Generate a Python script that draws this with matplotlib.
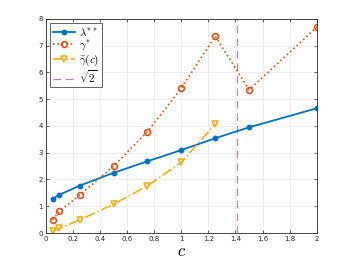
import matplotlib

matplotlib.use("Agg")

import matplotlib.pyplot as plt
import numpy as np

plt.rcParams["mathtext.fontset"] = "cm"

c_vals = [0.05, 0.1, 0.25, 0.5, 0.75, 1.0, 1.25, 1.5, 2.0]
lambda_ss = [1.28, 1.43, 1.77, 2.25, 2.68, 3.1, 3.54, 3.95, 4.66]
gamma_s = [0.49, 0.81, 1.42, 2.5, 3.79, 5.41, 7.36, 5.35, 7.69]
c_bar = [0.05, 0.1, 0.25, 0.5, 0.75, 1.0, 1.25]
gamma_bar = [0.07, 0.17, 0.49, 1.08, 1.76, 2.64, 4.07]

fig = plt.figure(figsize=(3.5, 2.63), dpi=100)
ax = fig.add_axes([0.131, 0.114, 0.774, 0.814])

ax.plot(c_vals, lambda_ss, "-o", color="#0072BD", lw=1.3, ms=3.2,
        label=r"$\lambda^{**}$")
ax.plot(c_vals, gamma_s, ":o", color="#D95319", lw=1.2, ms=4.2,
        mfc="none", mew=1.2, label=r"$\gamma^{*}$")
ax.plot(c_bar, gamma_bar, "-.v", color="#EDB120", lw=1.2, ms=4.8,
        mfc="none", mew=1.2, label=r"$\bar{\gamma}(c)$")
ax.axvline(np.sqrt(2), color="#7E2F8E", ls=(0, (6, 4)), lw=0.9, alpha=0.6,
           label=r"$\sqrt{2}$")

ax.set_xlim(0, 2)
ax.set_ylim(0, 8)
ax.set_xticks(np.arange(0, 2.01, 0.2))
ax.set_xticklabels(["0", "0.2", "0.4", "0.6", "0.8", "1", "1.2", "1.4",
                    "1.6", "1.8", "2"])
ax.set_yticks(range(9))
ax.tick_params(direction="in", labelsize=5, colors="#262626", length=2.5,
               width=0.5, top=True, right=True, pad=2)
ax.grid(True, color="#e6e6e6", lw=0.5)
ax.set_axisbelow(True)
for s in ax.spines.values():
    s.set_linewidth(0.6)
    s.set_color("#262626")

ax.set_xlabel(r"$c$", fontsize=12, labelpad=0)
leg = ax.legend(loc="upper left", fontsize=8, fancybox=False,
                edgecolor="#262626", framealpha=1, borderpad=0.25,
                labelspacing=0.0, handlelength=2.0, handletextpad=0.3,
                borderaxespad=0.4)
leg.get_frame().set_linewidth(0.5)

fig.savefig("out.png", dpi=100)
